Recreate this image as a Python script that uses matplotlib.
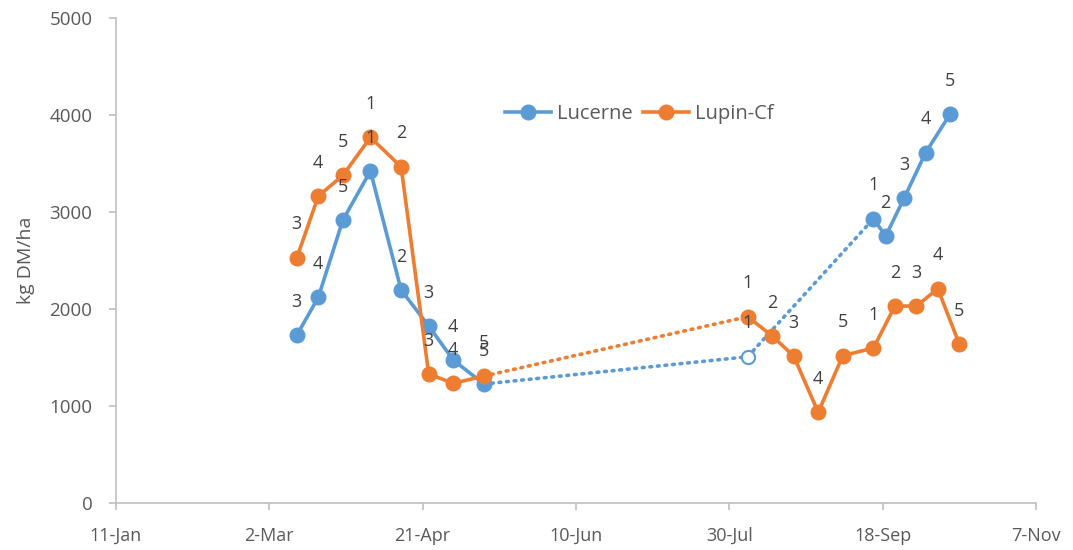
import matplotlib
matplotlib.use("Agg")
import matplotlib.pyplot as plt
import matplotlib.dates as mdates
import pandas as pd

plt.rcParams['font.family'] = ['Open Sans', 'DejaVu Sans']

BLUE = '#5B9BD5'
ORANGE = '#ED7D31'
GREY = '#595959'

# spring harvests (both crops)
spring_dates = ['2015-03-11', '2015-03-18', '2015-03-26', '2015-04-04',
                '2015-04-14', '2015-04-23', '2015-05-01', '2015-05-11']
lucerne_spring = [1732, 2120, 2918, 3423, 2196, 1825, 1474, 1227]
lupin_spring = [2529, 3165, 3378, 3770, 3467, 1330, 1234, 1309]
spring_labels = ['3', '4', '5', '1', '2', '3', '4', '5']

# lucerne single summer reading (open marker) and autumn run
lucerne_mid_date = '2015-08-05'
lucerne_mid = 1508
lucerne_mid_label = '1'
lucerne_autumn_dates = ['2015-09-15', '2015-09-19', '2015-09-25', '2015-10-02', '2015-10-10']
lucerne_autumn = [2931, 2753, 3144, 3612, 4010]
lucerne_autumn_labels = ['1', '2', '3', '4', '5']

# lupin summer/autumn run
lupin_late_dates = ['2015-08-05', '2015-08-13', '2015-08-20', '2015-08-28', '2015-09-05',
                    '2015-09-15', '2015-09-22', '2015-09-29', '2015-10-06', '2015-10-13']
lupin_late = [1921, 1722, 1515, 935, 1519, 1598, 2031, 2031, 2209, 1639]
lupin_late_labels = ['1', '2', '3', '4', '5', '1', '2', '3', '4', '5']

tick_dates = ['2015-01-11', '2015-03-02', '2015-04-21', '2015-06-10',
              '2015-07-30', '2015-09-18', '2015-11-07']


def d(lst):
    return pd.to_datetime(lst)


fig = plt.figure(figsize=(10.73, 5.5), dpi=100)
ax = fig.add_axes([0.108, 0.0855, 0.8575, 0.8815])

lw = 2.6
ms = 10.5
dots = (0, (0.5, 1.6))

# dotted gap links
ax.plot(d([spring_dates[-1], lupin_late_dates[0]]), [lupin_spring[-1], lupin_late[0]],
        color=ORANGE, lw=lw, ls=dots, dash_capstyle='round', zorder=2)
ax.plot(d([spring_dates[-1], lucerne_mid_date, lucerne_autumn_dates[0]]),
        [lucerne_spring[-1], lucerne_mid, lucerne_autumn[0]],
        color=BLUE, lw=lw, ls=dots, dash_capstyle='round', zorder=2)

# solid runs
ax.plot(d(spring_dates), lucerne_spring, color=BLUE, lw=lw, marker='o', ms=ms, zorder=3,
        label='Lucerne')
ax.plot(d(spring_dates), lupin_spring, color=ORANGE, lw=lw, marker='o', ms=ms, zorder=3,
        label='Lupin-Cf')
ax.plot(d(lucerne_autumn_dates), lucerne_autumn, color=BLUE, lw=lw, marker='o', ms=ms, zorder=3)
ax.plot(d(lupin_late_dates), lupin_late, color=ORANGE, lw=lw, marker='o', ms=ms, zorder=3)
ax.plot(d([lucerne_mid_date]), [lucerne_mid], ls='none', marker='o', ms=ms - 1,
        mfc='white', mec=BLUE, mew=1.5, zorder=4)


def label_points(dates, vals, labels):
    for x, y, t in zip(d(dates), vals, labels):
        ax.annotate(t, (x, y), xytext=(0, 24), textcoords='offset points',
                    ha='center', va='center', fontsize=13, color='#404040')


label_points(spring_dates, lucerne_spring, spring_labels)
label_points(spring_dates, lupin_spring, spring_labels)
label_points([lucerne_mid_date], [lucerne_mid], [lucerne_mid_label])
label_points(lucerne_autumn_dates, lucerne_autumn, lucerne_autumn_labels)
label_points(lupin_late_dates, lupin_late, lupin_late_labels)

ax.set_xlim(d(tick_dates)[0], d(tick_dates)[-1])
ax.set_ylim(0, 5000)
ax.set_xticks(d(tick_dates))
ax.xaxis.set_major_formatter(mdates.DateFormatter('%-d-%b'))
ax.set_yticks(range(0, 5001, 1000))

for s in ['top', 'right']:
    ax.spines[s].set_visible(False)
for s in ['left', 'bottom']:
    ax.spines[s].set_color('#BFBFBF')
    ax.spines[s].set_linewidth(1.2)
ax.tick_params(axis='both', colors='#BFBFBF', length=5, width=1.2, labelcolor=GREY,
               labelsize=13.5)
ax.tick_params(axis='y', pad=12)
ax.tick_params(axis='x', pad=12, labelsize=13)
ax.set_ylabel('kg DM/ha', fontsize=14, color=GREY, labelpad=10)

ax.legend(loc='upper left', bbox_to_anchor=(0.403, 0.86), ncol=2, frameon=False,
          fontsize=14.5, labelcolor=GREY, handlelength=2.3, columnspacing=0.5,
          handletextpad=0.3)

fig.savefig('out.png', dpi=100)
